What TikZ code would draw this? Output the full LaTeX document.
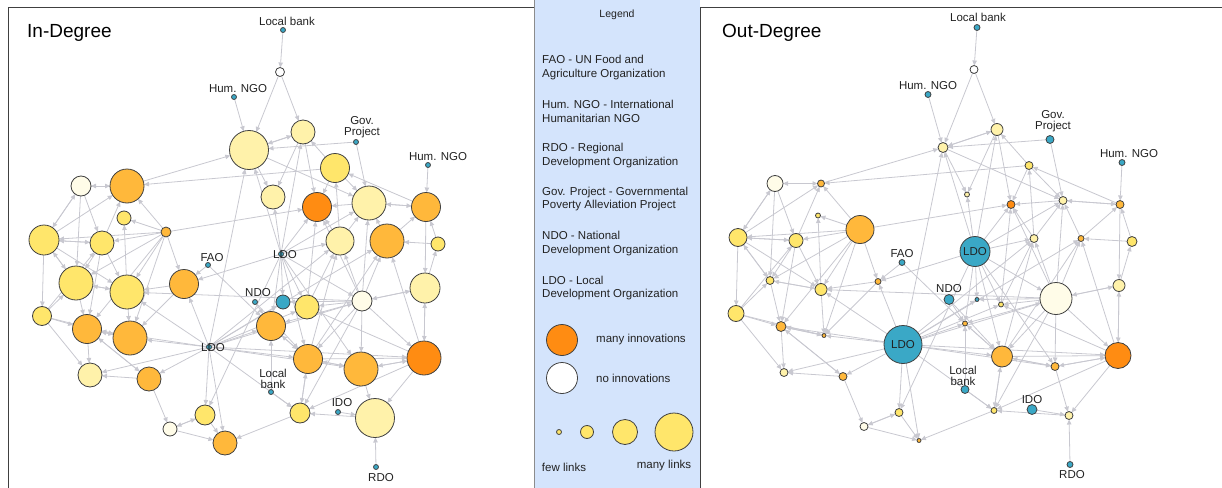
\documentclass[tikz,border=0pt]{standalone}
\usepackage{fontspec}
\setmainfont{Liberation Sans}
\usetikzlibrary{arrows.meta,backgrounds,calc}
\definecolor{cpale}{HTML}{FFF2AA}
\definecolor{cyel}{HTML}{FFE66B}
\definecolor{corg}{HTML}{FFB83B}
\definecolor{cdork}{HTML}{FF8C12}
\definecolor{ccream}{HTML}{FFFCE8}
\definecolor{cteal}{HTML}{3AA8C6}
\definecolor{cedge}{HTML}{C8C8D0}
\definecolor{clegend}{HTML}{D4E4FC}
\definecolor{ctext}{HTML}{222222}
\tikzset{
 vtx/.style={circle,draw=black!75,line width=0.8pt,inner sep=0pt,outer sep=0pt},
 edge/.style={draw=cedge,line width=0.8pt,-{Triangle[length=5pt,width=4.5pt]}},
 lbl/.style={font=\fontsize{11.5}{11}\selectfont,text=ctext,align=center,inner sep=0pt},
 legtxt/.style={font=\fontsize{11.5}{13.5}\selectfont,text=ctext,align=left,inner sep=0pt,anchor=west},
 ttl/.style={font=\fontsize{19}{22}\selectfont,text=black,anchor=west,inner sep=0pt},
}
\begin{document}
\begin{tikzpicture}[x=1pt,y=-1pt]
\useasboundingbox (0,0) rectangle (1222,487);
% frames and legend panel
\fill[clegend] (534,0) rectangle (700,490);
\draw[black!45,line width=0.8pt] (534,0) -- (534,490);
\draw[black!75,line width=1pt] (8,490) -- (8,8) -- (534,8);
\draw[black!75,line width=1pt] (700,490) -- (700,8) -- (1222,8);
\node[ttl] (titleL) at (27,33) {In-Degree};
\node[ttl] (titleR) at (722,33) {Out-Degree};
% nodes: name / x / y / radius in-degree / radius out-degree / colour
\foreach \n/\px/\py/\ra/\rb/\c in {%
lb/283/30/2.5/3/cteal,%
hngA/234/97/2.5/3/cteal,%
gov/356/142/2.5/4/cteal,%
hngB/428/165/2.5/3/cteal,%
fao/208/265/2.5/3/cteal,%
ndo/255/302/2.5/5/cteal,%
tq/283/302/7/2/cteal,%
ldoA/281/254/2.5/15/cteal,%
ldoB/209/347/2.5/19/cteal,%
lbB/271/392/2.5/4/cteal,%
ido/338/412/2.5/5/cteal,%
rdo/376/467/2.5/3/cteal,%
w1/280/72/4.5/4/white,%
n1/249/150/19.5/5/cpale,%
n2/303/132/12/6/cpale,%
n3/335/168/14.5/4/cyel,%
n4/81/186/10/8/ccream,%
n5/127/186/17/3.5/corg,%
n6/124/218/7/2.5/cyel,%
n7/166/232/5/14/corg,%
n8/273/197/12/2.5/cpale,%
n9/317/207/14.5/4/cdork,%
n10/369/203/17/4/cpale,%
n11/426/207/14.5/4/corg,%
n12/44/240/15/9/cyel,%
n13/102/243/12/7/cyel,%
n14/340/241/14/4/cpale,%
n15/387/241/17/3/corg,%
n16/438/244/7/5/cyel,%
n17/76/283/17/4/cyel,%
n18/127/292/17/6/cyel,%
n19/184/284/14.5/3/corg,%
n20/425/288/15/6/cpale,%
n21/307/307/12/2.5/cyel,%
n22/362/301/10/16/ccream,%
n23/42/316/9.5/8/cyel,%
n24/271/326/14.5/2.5/corg,%
n25/87/329/14.5/5/corg,%
n26/130/338/17/2/corg,%
n27/308/359/14.5/10.5/corg,%
n28/361/369/17/4/corg,%
n29/424/358/17/13/cdork,%
n30/90/375/12/4/cpale,%
n31/149/379/12/4/corg,%
n32/300/413/10/3/cyel,%
n33/375/418/19.5/4/cpale,%
n34/205/415/10/4/cyel,%
n35/170/429/7/4/ccream,%
n36/225/443/12/2/corg%
}{
  \node[vtx,fill=\c,minimum size={2*\ra pt}] (L\n) at (\px,\py) {};
  \node[vtx,fill=\c,minimum size={2*\rb pt}] (R\n) at (\px+694,\py-2.5) {};
}
% edges
\begin{scope}[on background layer]
\foreach \a/\b in {%
lb/w1, w1/n1, w1/n2, hngA/n1, gov/n1, gov/n10, hngB/n11, fao/n19, fao/n24, lbB/n24, lbB/n32, ido/n33, rdo/n33, ndo/n24, ndo/n27,%
ldoA/n8, ldoA/n9, ldoA/n14, ldoA/n2, ldoA/n1, ldoA/n19, ldoA/n21, ldoA/n24, ldoA/n27, ldoA/tq, ldoA/n22, ldoA/n28, ldoA/n10, ldoA/n34,%
ldoB/n26, ldoB/n18, ldoB/n31, ldoB/n30, ldoB/n19, ldoB/n34, ldoB/n36, ldoB/n24, ldoB/n27, ldoB/n28, ldoB/n29, ldoB/n21, ldoB/n1, ldoB/n14, ldoB/n32, ldoB/n25, ldoB/n15, ldoB/tq, ldoB/n22,%
n22/n14, n22/n15, n22/n20, n22/n21, n22/n24, n22/n27, n22/n28, n22/n29, n22/n18, n22/tq, n22/n10, n22/n9, n22/n32,%
n7/n5, n7/n6, n7/n13, n7/n12, n7/n19, n7/n18, n7/n26, n7/n9, n7/n17, n7/n25,%
n29/n20, n29/n28, n29/n33, n29/n32, n29/n15, n29/n21,%
n27/n28, n27/n24, n27/n32, n27/n29, n27/n15, n27/n14,%
n12/n4, n12/n23, n12/n17, n12/n18, n12/n5, n12/n13,%
n4/n5, n4/n12, n4/n13, n4/n17,%
n23/n13, n23/n17, n23/n25, n23/n30, n23/n26,%
n13/n5, n13/n12, n13/n17, n13/n25, n13/n18,%
n2/n1, n2/n8, n2/n9, n18/n6, n18/n17, n18/n26, n20/n29, n20/n16, n20/n22,%
n1/n2, n1/n8, n1/n10, n16/n15, n16/n11, n25/n30, n25/n26, n25/n31,%
n3/n5, n3/n2, n3/n9, n3/n10, n10/n9, n10/n11, n11/n20, n11/n3, n11/n10,%
n14/n9, n14/n3, n14/n10, n17/n25, n17/n12, n17/n18, n28/n33, n28/n29, n28/n27,%
n31/n30, n31/n35, n31/n25, n33/n32, n34/n35, n34/n36, n35/n34, n35/n36,%
n5/n4, n5/n1, n15/n10, n15/n11, n19/n26, n19/n18, n32/n36, n32/n27,%
n21/n14, n21/n9, n24/n27, n26/n25%
}{
  \draw[edge] (L\a) -- (L\b);
  \draw[edge] (R\a) -- (R\b);
}
\end{scope}
% labels of the outside organisations
\foreach \n/\dx/\dy/\ex/\ey/\t in {%
lb/4/-9/1/-10/{Local bank},%
hngA/4/-8/0/-9/{Hum. NGO},%
gov/6/-15/3/-18/{Gov.\\Project},%
hngB/10/-8/7/-9/{Hum. NGO},%
fao/4/-7/0/-9/{FAO},%
ndo/3/-9/0/-11/{NDO},%
lbB/2/-13/-2/-14/{Local\\bank},%
ido/4/-9/0/-10/{IDO},%
rdo/5/11/2/10/{RDO}%
}{
  \node[lbl] (L\n-t) at ($(L\n)+(\dx,\dy)$) {\t};
  \node[lbl] (R\n-t) at ($(R\n)+(\ex,\ey)$) {\t};
}
\node[lbl] (LldoA-t) at ($(LldoA)+(4,1)$) {LDO};
\node[lbl] (LldoB-t) at ($(LldoB)+(4,1)$) {LDO};
\node[lbl] (RldoA-t) at (RldoA) {LDO};
\node[lbl] (RldoB-t) at (RldoB) {LDO};
% legend
\node[lbl,font=\fontsize{10.5}{12}\selectfont] (legT) at (617,15) {Legend};
\node[legtxt] (lg1) at (542,67.5) {FAO - UN Food and\\Agriculture Organization};
\node[legtxt] (lg2) at (542,111.5) {Hum. NGO - International\\Humanitarian NGO};
\node[legtxt] (lg3) at (542,155.5) {RDO - Regional\\Development Organization};
\node[legtxt] (lg4) at (542,199) {Gov. Project - Governmental\\Poverty Alleviation Project};
\node[legtxt] (lg5) at (542,243.5) {NDO - National\\Development Organization};
\node[legtxt] (lg6) at (542,288) {LDO - Local\\Development Organization};
\node[vtx,fill=cdork,minimum size=31pt] (legA) at (562,340) {};
\node[legtxt] (legAt) at (596,340) {many innovations};
\node[vtx,fill=white,minimum size=31pt] (legB) at (562,378) {};
\node[legtxt] (legBt) at (596,378) {no innovations};
\node[vtx,fill=cyel,minimum size=5pt] (s1) at (559,432) {};
\node[vtx,fill=cyel,minimum size=13pt] (s2) at (587,432) {};
\node[vtx,fill=cyel,minimum size=25pt] (s3) at (625,432) {};
\node[vtx,fill=cyel,minimum size=38pt] (s4) at (674,432) {};
\node[lbl] (fewl) at (564,467) {few links};
\node[lbl] (manyl) at (664,466) {many links};
\end{tikzpicture}
\end{document}
